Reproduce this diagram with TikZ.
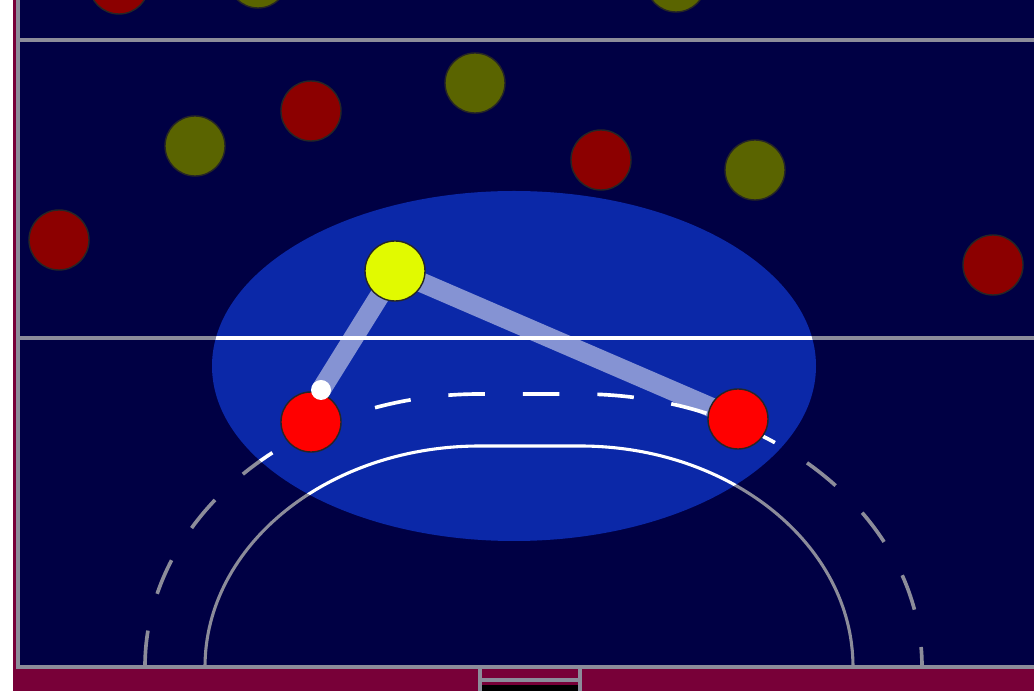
\documentclass[tikz,border=0pt]{standalone}
\usepackage{xcolor}
\usepackage{tikz}

\definecolor{quadra}{HTML}{000044}
\definecolor{fora}{HTML}{780038}
\definecolor{area}{HTML}{0B28A8}
\definecolor{giz}{HTML}{8C8C9A}
\definecolor{vinho}{HTML}{8C0000}
\definecolor{oliva}{HTML}{5A6400}
\definecolor{limao}{HTML}{E1FA00}

\pgfdeclarelayer{piso}
\pgfdeclarelayer{passes}
\pgfsetlayers{piso,passes,main}

\newcommand{\marcacoes}[1]{%
  \draw[linha, draw=#1] (18,353) -- (1034,353);
  \draw[linha, draw=#1] (205,24) arc[start angle=180, end angle=90, x radius=275, y radius=221]
    -- (580,245) arc[start angle=90, end angle=0, x radius=273, y radius=221];
  \draw[linha, draw=#1, line width=2.6pt, dash pattern=on 26pt off 27pt] (145,24) arc[start angle=180, end angle=90, x radius=335, y radius=273]
    -- (580,297) arc[start angle=90, end angle=0, x radius=342, y radius=273];
}

\begin{document}
\begin{tikzpicture}[
        x=0.025cm, y=0.025cm,
        linha/.style={line width=2.2pt},
        jogador/.style={circle, draw=black!85, line width=1pt, minimum size=1.5cm, inner sep=0pt},
        bola/.style={circle, fill=white, minimum size=0.5cm, inner sep=0pt},
        passe/.style={draw=white, draw opacity=0.5, line width=14pt}
    ]
    \useasboundingbox (0,0) rectangle (1034,691);
    \clip (0,0) rectangle (1034,691);

    \begin{pgfonlayer}{piso}
        \fill[white] (0,0) rectangle (1034,691);
        \fill[fora] (13,0) rectangle (1034,691);
        \fill[quadra] (19,26) rectangle (1034,691);
        \draw[linha, giz] (18,691) -- (18,24) -- (1034,24);
        \draw[linha, giz] (18,651) -- (1034,651);
        % gol
        \fill[black] (480,0) rectangle (580,6);
        \draw[linha, giz] (480,0) -- (480,24) (580,0) -- (580,24) (480,11) -- (580,11);
        \marcacoes{giz}
        \fill[area] (514,325) ellipse[x radius=302, y radius=175];
        \begin{scope}
            \clip (514,325) ellipse[x radius=302, y radius=175];
            \marcacoes{white}
        \end{scope}
    \end{pgfonlayer}

    \foreach \n/\x/\y in {v1/119/707, v2/311/580, v3/601/531, v4/59/451, v5/993/426}
        \node[jogador, fill=vinho] (\n) at (\x,\y) {};
    \foreach \n/\x/\y in {o1/258/713, o2/676/709, o3/475/608, o4/195/545, o5/755/521}
        \node[jogador, fill=oliva] (\n) at (\x,\y) {};

    \node[jogador, fill=limao] (pivo) at (395,420) {};
    \node[jogador, fill=red] (armador) at (311,269) {};
    \node[jogador, fill=red] (ponta) at (738,272) {};
    \node[bola] (b) at (321,301) {};

    \begin{pgfonlayer}{passes}
        \draw[passe] (pivo.center) -- (b.center);
        \draw[passe] (pivo.center) -- (ponta.center);
    \end{pgfonlayer}
\end{tikzpicture}
\end{document}
